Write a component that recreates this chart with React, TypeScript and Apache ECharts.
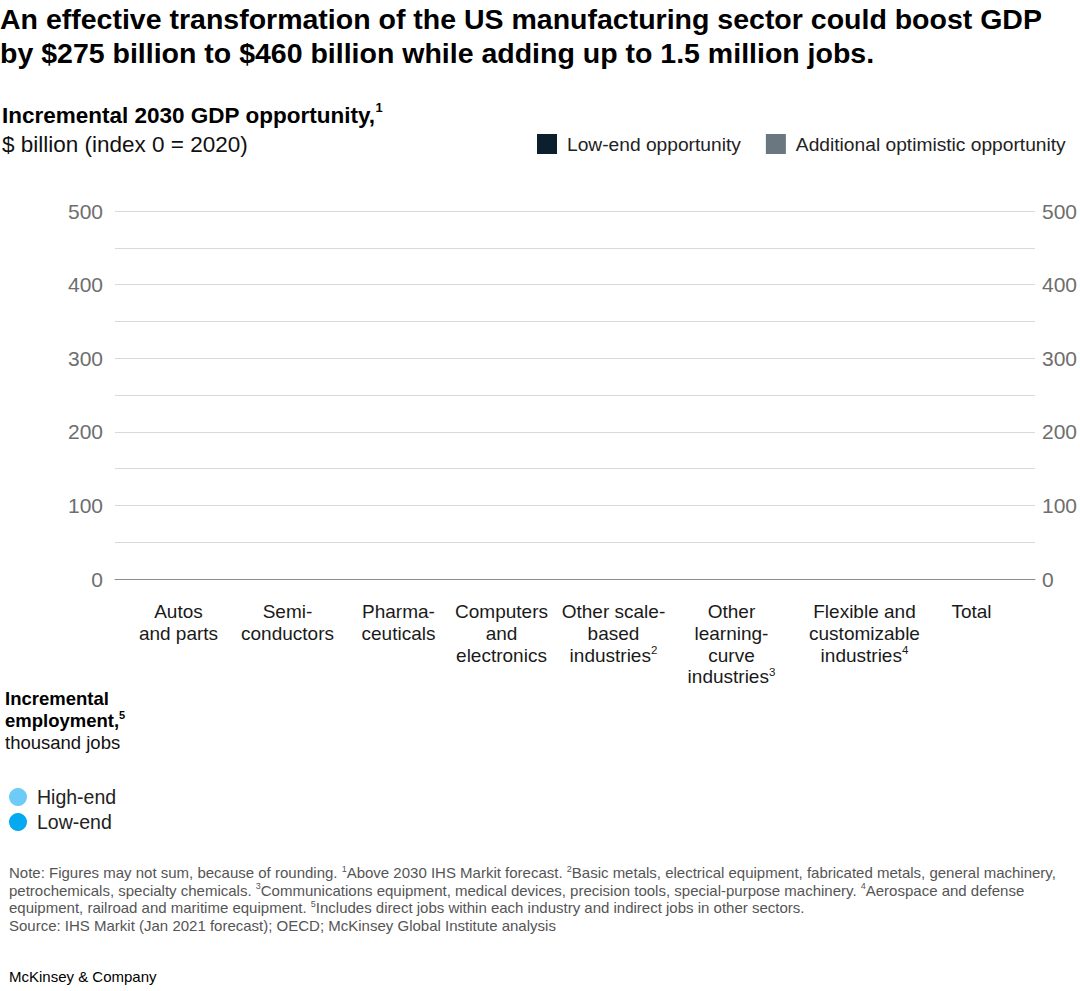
import React, { useEffect, useRef } from "react";
import * as echarts from "echarts";

// ---- data ----
const categories = [
  "Autos\nand parts",
  "Semi-\nconductors",
  "Pharma-\nceuticals",
  "Computers\nand\nelectronics",
  "Other scale-\nbased\nindustries{sup|2}",
  "Other\nlearning-\ncurve\nindustries{sup|3}",
  "Flexible and\ncustomizable\nindustries{sup|4}",
  "Total",
];
// The reference picture shows no bars or dots, so the series hold no values.
const lowEndOpportunity: (number | null)[] = [];
const additionalOptimistic: (number | null)[] = [];
const highEndJobs: (number | null)[] = [];
const lowEndJobs: (number | null)[] = [];
const yTicks = [0, 100, 200, 300, 400, 500];

const FONT = "Liberation Sans, Arial, sans-serif";

const notes = [
  "Note: Figures may not sum, because of rounding. {sup|1}Above 2030 IHS Markit forecast. {sup|2}Basic metals, electrical equipment, fabricated metals, general machinery,",
  "petrochemicals, specialty chemicals. {sup|3}Communications equipment, medical devices, precision tools, special-purpose machinery. {sup|4}Aerospace and defense",
  "equipment, railroad and maritime equipment. {sup|5}Includes direct jobs within each industry and indirect jobs in other sectors.",
  "Source: IHS Markit (Jan 2021 forecast); OECD; McKinsey Global Institute analysis",
];

export default function App() {
  const ref = useRef<HTMLDivElement>(null);
  useEffect(() => {
    document.body.style.margin = "0";
    if (!ref.current) return;
    const chart = echarts.init(ref.current, undefined, { renderer: "svg" });
    const supStyle = (size: number) => ({
      fontSize: size,
      verticalAlign: "top" as const,
      fontFamily: FONT,
    });
    // horizontal nudges of category labels (px; negative = left), matching the reference's uneven columns
    const labelShift = [6, 0, -4, -16, -19, -16, 2, -6];
    const xData = categories.map((c, i) => {
      const s = labelShift[i];
      return {
        value: c,
        textStyle: { padding: s >= 0 ? [0, 0, 0, 2 * s] : [0, -2 * s, 0, 0] },
      };
    });
    chart.setOption({
      animation: false,
      backgroundColor: "#ffffff",
      textStyle: { fontFamily: FONT },
      grid: { left: 115, right: 44, top: 211, bottom: 412, containLabel: false },
      legend: [
        {
          data: ["Low-end opportunity", "Additional optimistic opportunity"],
          left: 537,
          top: 134,
          padding: 0,
          icon: "rect",
          itemWidth: 20,
          itemHeight: 20,
          itemGap: 25,
          textStyle: {
            fontSize: 19.2,
            lineHeight: 20,
            color: "#222",
            fontFamily: FONT,
            padding: [0, 0, 0, 5],
          },
        },
        {
          data: ["High-end", "Low-end"],
          orient: "vertical",
          left: 9,
          top: 787,
          padding: 0,
          icon: "circle",
          itemWidth: 18,
          itemHeight: 18,
          itemGap: 5,
          textStyle: {
            fontSize: 19.5,
            lineHeight: 18,
            color: "#222",
            fontFamily: FONT,
            padding: [0, 0, 0, 5],
          },
        },
      ],
      xAxis: {
        type: "category",
        data: xData,
        axisLine: { show: true, lineStyle: { color: "#8c8c8c", width: 1 } },
        axisTick: { show: false },
        axisLabel: {
          interval: 0,
          margin: 22,
          fontSize: 19,
          lineHeight: 21.7,
          color: "#1a1a1a",
          fontFamily: FONT,
          rich: { sup: { ...supStyle(11.5), lineHeight: 21.7, padding: [0, 0, 6, 0] } },
        },
      },
      yAxis: [
        {
          type: "value",
          min: 0,
          max: 500,
          interval: 50,
          position: "left",
          axisLine: { show: false },
          axisTick: { show: false },
          splitLine: { show: true, lineStyle: { color: "#d9d9d9", width: 1 } },
          axisLabel: {
            margin: 12,
            fontSize: 21,
            color: "#6e6e6e",
            fontFamily: FONT,
            formatter: (v: number) => (yTicks.includes(v) ? String(v) : ""),
          },
        },
        {
          type: "value",
          min: 0,
          max: 500,
          interval: 50,
          position: "right",
          axisLine: { show: false },
          axisTick: { show: false },
          splitLine: { show: false },
          axisLabel: {
            margin: 7,
            fontSize: 21,
            color: "#6e6e6e",
            fontFamily: FONT,
            formatter: (v: number) => (yTicks.includes(v) ? String(v) : ""),
          },
        },
      ],
      series: [
        {
          name: "Low-end opportunity",
          type: "bar",
          stack: "gdp",
          data: lowEndOpportunity,
          itemStyle: { color: "#0b1f2e" },
        },
        {
          name: "Additional optimistic opportunity",
          type: "bar",
          stack: "gdp",
          data: additionalOptimistic,
          itemStyle: { color: "#6b7780" },
        },
        {
          name: "High-end",
          type: "scatter",
          data: highEndJobs,
          itemStyle: { color: "#6ccbf7", opacity: 1 },
        },
        {
          name: "Low-end",
          type: "scatter",
          data: lowEndJobs,
          itemStyle: { color: "#05a9f0", opacity: 1 },
        },
      ],
      graphic: [
        {
          type: "text",
          left: 0,
          top: 2,
          style: {
            text: "An effective transformation of the US manufacturing sector could boost GDP\nby $275 billion to $460 billion while adding up to 1.5 million jobs.",
            fontSize: 28.5,
            fontWeight: "bold",
            lineHeight: 34,
            fill: "#000",
            fontFamily: FONT,
          },
        },
        {
          type: "text",
          left: 2,
          top: 101,
          style: {
            text: "Incremental 2030 GDP opportunity,{sup|1}",
            fontSize: 22.5,
            fontWeight: "bold",
            lineHeight: 28,
            fill: "#000",
            fontFamily: FONT,
            rich: { sup: { ...supStyle(13), fontWeight: "bold", lineHeight: 28, padding: [0, 0, 8, 0] } },
          },
        },
        {
          type: "text",
          left: 2,
          top: 130,
          style: {
            text: "$ billion (index 0 = 2020)",
            fontSize: 22.5,
            lineHeight: 28,
            fill: "#111",
            fontFamily: FONT,
          },
        },
        {
          type: "text",
          left: 5,
          top: 687,
          style: {
            text: "Incremental\nemployment,{sup|5}",
            fontSize: 18.5,
            fontWeight: "bold",
            lineHeight: 22,
            fill: "#000",
            fontFamily: FONT,
            rich: { sup: { ...supStyle(11), fontWeight: "bold", lineHeight: 22, padding: [0, 0, 6, 0] } },
          },
        },
        {
          type: "text",
          left: 5,
          top: 731,
          style: {
            text: "thousand jobs",
            fontSize: 18.5,
            lineHeight: 22,
            fill: "#111",
            fontFamily: FONT,
          },
        },
        {
          type: "text",
          left: 9,
          top: 864,
          style: {
            text: notes.join("\n"),
            fontSize: 15,
            lineHeight: 17.5,
            fill: "#555",
            fontFamily: FONT,
            rich: { sup: { ...supStyle(9), lineHeight: 17.5, fill: "#555", padding: [0, 0, 4, 0] } },
          },
        },
        {
          type: "text",
          left: 9,
          top: 967,
          style: {
            text: "McKinsey & Company",
            fontSize: 15,
            lineHeight: 18,
            fill: "#000",
            fontFamily: FONT,
          },
        },
      ],
    });
    return () => chart.dispose();
  }, []);
  return <div ref={ref} style={{ width: 1080, height: 991 }} />;
}
